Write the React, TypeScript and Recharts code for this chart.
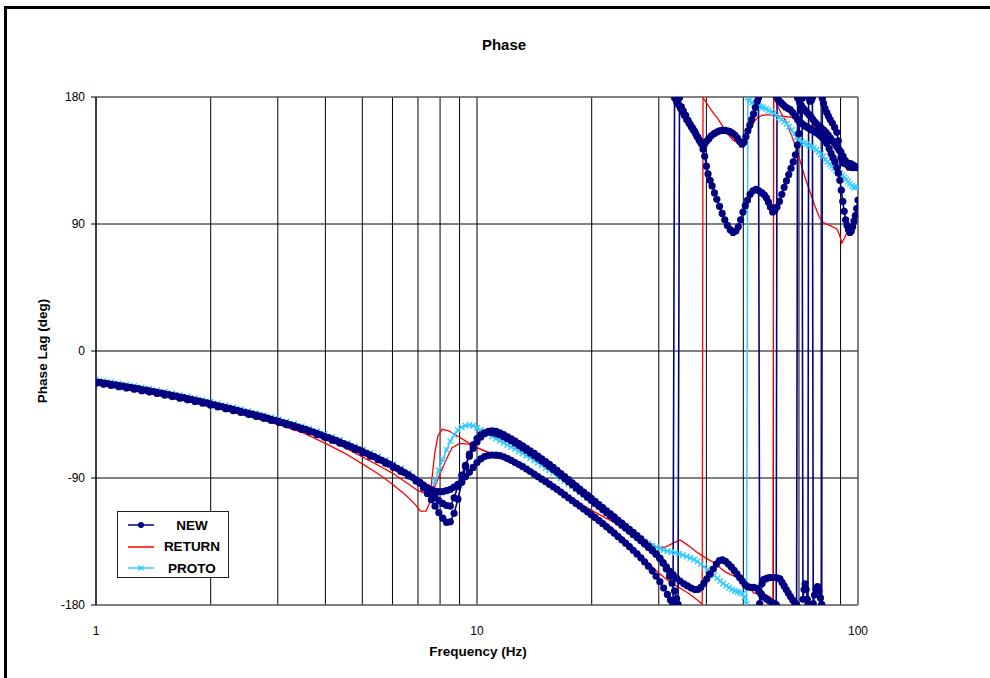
import React from 'react';
import { LineChart, Line, XAxis, YAxis, CartesianGrid, ReferenceLine } from 'recharts';

// Axis ticks: every grid frequency gets a vertical line, only decades get a label.
const gridFreqs = [1, 2, 3, 4, 5, 6, 7, 8, 9, 10, 20, 30, 40, 50, 60, 70, 80, 90, 100];
const decadeLabels = [1, 10, 100];
const phaseTicks = [-180, -90, 0, 90, 180];

// Shared sweep frequencies (Hz)
const lowFreqEven = [1.000, 1.047, 1.096, 1.148, 1.202, 1.259, 1.318, 1.380, 1.445, 1.514, 1.585, 1.660, 1.738, 1.820, 1.905, 1.995, 2.089, 2.188, 2.291, 2.399, 2.512, 2.630, 2.754, 2.884, 3.020, 3.162, 3.311, 3.467, 3.631, 3.802, 3.981, 4.169, 4.365, 4.571, 4.786, 5.012, 5.248, 5.495, 5.754, 6.026, 6.310, 6.607, 6.918];
const lowFreqOdd = [1.023, 1.072, 1.122, 1.175, 1.230, 1.288, 1.349, 1.413, 1.479, 1.549, 1.622, 1.698, 1.778, 1.862, 1.950, 2.042, 2.138, 2.239, 2.344, 2.455, 2.570, 2.692, 2.818, 2.951, 3.090, 3.236, 3.388, 3.548, 3.715, 3.890, 4.074, 4.266, 4.467, 4.677, 4.898, 5.129, 5.370, 5.623, 5.888, 6.166, 6.457, 6.761];
const midFreq = [7.08, 7.24, 7.41, 7.59, 7.76, 7.94, 8.13, 8.32, 8.51, 8.71, 8.91, 9.12, 9.33, 9.55, 9.77, 10.00, 10.23, 10.47, 10.72, 10.96, 11.22, 11.48, 11.75, 12.02, 12.30, 12.59, 12.88, 13.18, 13.49, 13.80, 14.13, 14.45, 14.79, 15.14, 15.49, 15.85, 16.22, 16.60, 16.98, 17.38, 17.78, 18.20, 18.62, 19.05, 19.50, 19.95, 20.42, 20.89, 21.38, 21.88, 22.39, 22.91, 23.44, 23.99, 24.55, 25.12, 25.70, 26.30, 26.92, 27.54, 28.18, 28.84, 29.51, 30.20];

// NEW, run A (phase lag, deg)
const newALow = [-22.0, -22.8, -23.6, -24.5, -25.4, -26.3, -27.3, -28.3, -29.3, -30.4, -31.5, -32.6, -33.8, -35.0, -36.2, -37.5, -38.8, -40.1, -41.4, -42.7, -44.1, -45.5, -46.9, -48.4, -49.9, -51.5, -53.1, -54.8, -56.5, -58.4, -60.4, -62.4, -64.5, -66.7, -69.0, -71.3, -73.7, -76.2, -78.8, -81.6, -84.6, -87.8, -91.3];
const newAMid = [-93.0, -95.0, -96.8, -98.2, -99.2, -99.7, -99.6, -99.0, -98.0, -96.5, -94.5, -92.0, -89.0, -86.0, -82.5, -79.0, -76.5, -74.8, -74.0, -73.7, -73.8, -74.2, -75.0, -76.2, -77.5, -79.0, -80.5, -82.0, -83.7, -85.4, -87.2, -89.0, -90.8, -92.6, -94.4, -96.2, -98.0, -100.0, -102.0, -104.0, -106.0, -108.0, -110.0, -112.0, -114.0, -116.0, -118.0, -120.2, -122.4, -124.6, -126.8, -129.0, -131.4, -133.8, -136.2, -138.6, -141.2, -143.8, -146.6, -149.5, -152.5, -155.8, -159.5, -163.5];
const newAHighFreq = [30.9, 31.6, 32.2, 32.7, 33.0, 33.4, 33.8, 34.2, 34.6, 35.0, 35.5, 36.0, 36.5, 37.0, 37.5, 38.0, 38.5, 39.0, 39.5, 40.0, 40.6, 41.2, 41.9, 42.6, 43.3, 44.0, 44.7, 45.4, 46.1, 46.8, 47.5, 48.2, 48.9, 49.6, 50.2, 50.8, 51.4, 52.0, 52.6, 53.2, 53.8, 54.4, 54.8, 55.2, 55.6, 56.0, 56.5, 57.2, 57.9, 58.6, 59.3, 60.0, 60.8, 61.6, 62.4, 63.2, 64.0, 64.8, 65.6, 66.5, 67.4, 68.3, 69.0, 69.4, 70.2, 71.0, 71.8, 72.6, 73.5, 74.4, 75.3, 76.2, 77.2, 78.2, 79.2, 80.2, 81.3, 82.4, 83.5, 84.6, 85.7, 86.8, 87.9, 89.0, 90.2, 91.4, 92.6, 93.8, 95.0, 96.3, 97.6, 98.9, 100];
const newAHigh = [-168, -172.5, -176.5, -179.5, 179.5, 177, 174.5, 172, 169.5, 167, 164, 161.5, 159, 156.5, 154, 151.5, 148.5, 146.5, 146.5, 148.5, 150.5, 152.5, 154, 155.2, 156, 156.3, 156.3, 156, 155.5, 154.5, 153, 151, 148.5, 146.5, 148, 152, 156, 160, 164, 168, 172.5, 177, 179.5, -179, -172, -165, -162, -161.5, -161, -160.5, -160.5, -160.5, -160.5, -161, -161.5, -164, -166.5, -169, -171.5, -174, -176.5, -178.5, -179.7, 179.5, 176.5, 174, 172, 170.5, 169, 167.5, 166, 164, 162, 160.5, 159, 158, 156.5, 155, 153, 151, 149, 147, 145, 143, 141, 138, 135, 132, 130.5, 130, 130, 130, 130];

// NEW, run B
const newBLow = [-22.3, -23.1, -24.0, -24.9, -25.8, -26.7, -27.7, -28.7, -29.8, -30.9, -32.0, -33.1, -34.3, -35.5, -36.8, -38.1, -39.4, -40.7, -42.0, -43.4, -44.8, -46.2, -47.6, -49.1, -50.7, -52.3, -53.9, -55.6, -57.4, -59.4, -61.4, -63.4, -65.6, -67.8, -70.1, -72.5, -74.9, -77.5, -80.2, -83.1, -86.2, -89.5];
const newBMid = [-93.5, -96.0, -98.5, -101.0, -103.5, -106.0, -108.0, -109.5, -110.0, -104.0, -96.0, -88.0, -81.0, -74.5, -69.0, -64.5, -61.0, -58.5, -57.0, -56.5, -57.0, -58.0, -59.3, -60.8, -62.3, -63.9, -65.6, -67.3, -69.0, -70.8, -72.6, -74.5, -76.4, -78.4, -80.4, -82.5, -84.6, -86.8, -89.0, -91.2, -93.4, -95.6, -97.8, -100.0, -102.2, -104.4, -106.6, -108.8, -111.0, -113.2, -115.4, -117.6, -119.8, -122.0, -124.2, -126.4, -128.6, -130.8, -133.2, -135.8, -138.4, -141.0, -143.8, -147.0];
const newBHighFreq = [30.8, 31.4, 32.0, 32.5, 33.0, 33.4, 33.7, 34.0, 34.4, 34.8, 35.3, 35.8, 36.3, 36.8, 37.3, 37.8, 38.3, 38.8, 39.2, 39.6, 40.0, 40.4, 40.9, 41.4, 42.0, 42.6, 43.3, 44.0, 44.7, 45.4, 46.2, 47.0, 47.8, 48.5, 49.2, 49.9, 50.6, 51.3, 52.1, 53.0, 54.0, 55.0, 56.0, 56.8, 57.5, 58.2, 58.9, 59.7, 60.5, 61.3, 62.2, 63.1, 64.0, 64.9, 65.8, 66.7, 67.6, 68.5, 69.3, 69.9, 70.4, 70.9, 71.3, 71.7, 72.2, 72.6, 73.1, 73.6, 73.9, 74.2, 74.8, 75.4, 75.9, 76.3, 76.9, 77.6, 78.3, 79.0, 79.7, 80.3, 80.6, 81.2, 81.9, 82.8, 83.6, 84.5, 85.6, 86.8, 88.0, 88.8, 89.4, 90.2, 91.0, 92.0, 93.2, 94.4, 95.6, 96.8, 98.0, 99.0, 100];
const newBHigh = [-150.5, -154.5, -159.5, -164.5, -170, -175.5, -179.5, 179.5, 173, 170, 167, 163.5, 160.5, 158, 155.5, 152, 149.5, 147, 143, 138, 131, 125.5, 121, 117, 112, 107.5, 102.5, 97.5, 93, 89, 86, 84, 85, 88, 93, 98.5, 103, 107, 111, 113.5, 114.5, 113.5, 112, 110.5, 108.5, 105.5, 102, 98.5, 99.5, 102, 106, 111, 116, 120.5, 125, 129.5, 134, 139, 146, 154, 162, 170.5, 179, -176, -169, -165, -169, -176, -179.5, 179.5, 177, 177.5, 179.5, -179, -173, -168.5, -167, -170, -175, -179.5, 179, 175.5, 172, 169, 166.5, 164, 161.5, 158.5, 155, 149, 142, 137, 133.5, 133, 133, 133, 132.8, 132, 131, 130.3, 130];

// NEW, run C
const newCLow = [-22.8, -23.6, -24.4, -25.3, -26.2, -27.1, -28.1, -29.1, -30.1, -31.2, -32.3, -33.4, -34.6, -35.8, -37.0, -38.3, -39.6, -40.9, -42.2, -43.5, -44.9, -46.3, -47.7, -49.2, -50.7, -52.3, -53.9, -55.6, -57.3, -59.2, -61.2, -63.2, -65.3, -67.5, -69.8, -72.1, -74.5, -77.0, -79.6, -82.4, -85.4, -88.6, -92.1];
const newCMid = [-93.5, -97.0, -101.0, -105.5, -110.0, -114.5, -118.5, -121.5, -121.0, -115.0, -105.0, -93.0, -82.0, -73.0, -66.5, -62.0, -59.5, -58.0, -57.5, -57.8, -58.5, -59.5, -60.8, -62.2, -63.7, -65.3, -67.0, -68.7, -70.4, -72.2, -74.0, -75.9, -77.8, -79.8, -81.8, -83.9, -86.0, -88.2, -90.4, -92.6, -94.8, -97.0, -99.2, -101.4, -103.6, -105.8, -108.0, -110.2, -112.4, -114.6, -116.8, -119.0, -121.2, -123.4, -125.6, -127.8, -130.0, -132.2, -134.5, -136.8, -139.2, -141.6, -144.0, -146.8];
const newCHighFreq = [30.8, 31.4, 32.0, 32.7, 33.4, 34.1, 34.9, 35.7, 36.5, 37.3, 38.0, 38.7, 39.4, 40.1, 40.9, 41.7, 42.5, 43.3, 44.1, 44.9, 45.7, 46.5, 47.3, 48.1, 48.9, 49.7, 50.5, 51.3, 52.2, 53.1, 54.0, 54.9, 55.8, 56.7, 57.6, 58.5, 59.4, 60.3, 61.0, 61.3, 62.0, 62.8, 63.6, 64.5, 65.4, 66.4, 67.4, 68.4, 69.4, 70.4, 71.4, 72.5, 73.6, 74.7, 75.8, 76.9, 78.0, 79.2, 80.4, 81.6, 82.8, 84.0, 85.0, 86.0, 87.0, 88.0, 88.8, 89.6, 90.4, 91.2, 92.0, 92.8, 93.6, 94.4, 95.2, 96.0, 96.8, 97.6, 98.4, 99.2, 100];
const newCHigh = [-150, -153, -156, -158.5, -161, -163, -165, -166.5, -168, -169, -169, -167.5, -164.5, -161.5, -158, -154.5, -151, -148.5, -148, -149, -151, -153, -155.5, -158, -160.5, -163, -165.5, -167, -167.5, -167.5, -168, -170, -172.5, -174.5, -176, -177, -178, -179, -179.8, 179.5, 177.5, 176, 174.5, 173, 172, 171, 169, 166.5, 164, 162, 161, 159.5, 158.5, 157.5, 156.5, 155.5, 154.5, 153, 151.5, 149.5, 147, 143.5, 140, 137, 134, 130, 126, 121, 114, 106, 99, 93, 89, 86, 84, 85, 88, 92, 96, 101, 107];

// PROTO
const protoLow = [-20.5, -21.3, -22.1, -23.0, -23.9, -24.8, -25.8, -26.8, -27.8, -28.9, -30.0, -31.1, -32.3, -33.5, -34.7, -36.0, -37.3, -38.6, -39.9, -41.2, -42.6, -44.0, -45.4, -46.9, -48.4, -50.0, -51.6, -53.3, -55.0, -56.9, -58.9, -60.9, -63.0, -65.2, -67.5, -69.8, -72.2, -74.7, -77.3, -80.1, -83.1, -86.3, -89.8];
const protoMid = [-93.5, -97.0, -100.0, -99.5, -92.0, -84.5, -77.0, -70.0, -64.0, -59.5, -56.0, -54.0, -53.0, -52.5, -53.0, -54.5, -56.0, -57.5, -59.0, -60.5, -62.0, -63.5, -65.0, -66.5, -68.0, -69.5, -71.0, -72.6, -74.2, -75.8, -77.5, -79.2, -81.0, -82.8, -84.6, -86.4, -88.3, -90.2, -92.1, -94.0, -96.0, -98.0, -100.0, -102.0, -104.0, -106.0, -108.1, -110.2, -112.3, -114.4, -116.5, -118.6, -120.7, -122.8, -124.9, -127.0, -129.0, -131.0, -133.0, -134.8, -136.4, -137.8, -139.0, -140.0];
const protoHighFreq = [30.9, 31.6, 32.4, 33.1, 33.9, 34.7, 35.5, 36.3, 37.1, 37.9, 38.7, 39.5, 40.3, 41.1, 41.9, 42.7, 43.5, 44.3, 45.1, 45.9, 46.7, 47.5, 48.3, 49.1, 49.8, 50.4, 51.0, 51.4, 52.0, 52.7, 53.4, 54.1, 54.9, 55.7, 56.5, 57.4, 58.3, 59.2, 60.1, 61.0, 62.0, 63.0, 64.0, 65.0, 66.0, 67.0, 68.0, 69.0, 70.0, 71.1, 72.2, 73.3, 74.4, 75.5, 76.6, 77.7, 78.8, 79.9, 81.0, 82.1, 83.2, 84.3, 85.4, 86.5, 87.6, 88.7, 89.8, 90.9, 92.0, 93.1, 94.2, 95.3, 96.4, 97.5, 98.6, 100];
const protoHigh = [-141, -141.8, -142.5, -143, -143.8, -144.6, -145.6, -146.6, -147.8, -149.2, -151, -153, -155, -157, -159, -161, -163, -164.8, -166.4, -167.8, -169, -170, -170.6, -171.2, -172, -174.5, -179.5, 179.5, 177.5, 176, 175, 174, 173.5, 173, 172.5, 171.5, 170.5, 169.5, 168.5, 167, 165.5, 164, 162.5, 161, 159, 156.5, 154, 151.5, 149.5, 148.5, 147.5, 146.5, 145.5, 145, 144, 142.5, 141, 139.5, 138, 135.5, 134, 132.5, 131, 129.5, 128, 127, 126, 124.5, 123, 121.5, 120, 118.5, 117, 116, 116, 116];

// RETURN, run A
const returnAFreq = [1.0, 1.26, 1.58, 2.0, 2.5, 3.0, 3.5, 4.0, 4.5, 5.0, 5.5, 6.0, 6.5, 6.9, 7.1, 7.35, 7.5, 7.62, 7.75, 7.9, 8.1, 8.4, 8.8, 9.3, 9.8, 10.5, 11.2, 12.0, 13.0, 14.4, 16.0, 17.6, 19.5, 21.5, 23.3, 25.1, 26.5, 28.0, 29.5, 31.0, 32.5, 34.1, 35.8, 37.3, 38.5, 39.0, 39.2, 40.0, 41.0, 42.0, 42.8, 43.6, 44.3, 45.2, 46.1, 47.0, 48.3, 49.6, 50.5, 51.5, 52.5, 53.5, 54.5, 56.0, 58.0, 60.0, 62.5, 65.0, 67.5, 70.0, 73.0, 76.0, 78.5, 80.5, 83.0, 85.5, 88.0, 90.5, 92.5, 93.8, 95.5, 97.5, 100];
const returnAPhase = [-24, -27.5, -32.5, -39.5, -46, -52, -58, -65.5, -72.5, -80, -87, -94.5, -102, -109, -113.5, -113.5, -108, -90, -72, -60, -55.5, -56.5, -59.5, -63.5, -67.5, -71, -74, -77.5, -82, -88, -95.5, -103.5, -112, -120.5, -128.5, -136.5, -142.5, -149.5, -155.5, -160.5, -164.5, -168, -171.5, -175, -178, -179.5, 179.5, 176, 171.5, 167.5, 165, 161.5, 158.5, 155, 152, 149.5, 147.5, 147, 149, 153.5, 158.5, 163, 165.5, 167, 167.5, 167, 166.5, 166, 165.5, 164, 161.5, 159, 157, 156, 152, 147.5, 142, 135.5, 130.5, 128, 128.5, 129.5, 131];

// RETURN, run B
const returnBFreq = [1.0, 1.26, 1.58, 2.0, 2.5, 3.0, 3.5, 4.0, 4.5, 5.0, 5.5, 6.0, 6.5, 7.0, 7.25, 7.5, 7.75, 8.0, 8.3, 8.6, 9.0, 9.5, 10.0, 10.6, 11.3, 12.0, 13.0, 14.4, 16.0, 17.6, 19.0, 20.5, 22.0, 23.3, 24.8, 26.3, 28.0, 29.5, 30.5, 31.5, 32.8, 34.1, 35.3, 36.5, 37.7, 39.0, 40.3, 41.6, 43.2, 44.8, 46.8, 49.0, 51.0, 53.2, 55.3, 57.5, 58.9, 59.5, 59.8, 60.1, 61.5, 63.0, 65.0, 67.5, 70.0, 72.5, 75.0, 77.0, 79.0, 80.6, 82.5, 85.0, 88.0, 89.5, 90.7, 92.5, 94.5, 96.5, 98.5, 100];
const returnBPhase = [-23.5, -27, -32, -39, -45.5, -51.5, -57, -62.5, -68.5, -75, -81, -86.5, -93, -99, -100.5, -100.5, -96, -87, -77, -68.5, -65.5, -66, -68.5, -71.5, -74.5, -78, -82.5, -88.5, -96, -104, -109.5, -114.5, -119, -122.5, -126.5, -130.5, -135, -138.5, -139.5, -138.5, -136, -134, -136.5, -139.5, -142.5, -145, -147.5, -149.5, -153, -156.5, -159, -161, -165, -171.5, -172.5, -173, -174.5, -178, -179.5, 179.5, 174, 168, 161.5, 150, 137.5, 123.5, 112, 103, 95.5, 91.5, 90, 88.5, 86.5, 82, 76.5, 81, 86.5, 90, 93, 95];

type Pt = { f: number; p: number };
const toPoints = (freqs: number[], phases: number[]): Pt[] =>
  freqs.map((f, i) => ({ f, p: phases[i] }));

const NAVY = '#000080';
const RED = '#FF0000';
const SKY = '#33CCFF';
const FONT = "'Liberation Sans', Arial, Helvetica, sans-serif";

const newA = toPoints([...lowFreqEven, ...midFreq, ...newAHighFreq], [...newALow, ...newAMid, ...newAHigh]);
const newB = toPoints([...lowFreqOdd, ...midFreq, ...newBHighFreq], [...newBLow, ...newBMid, ...newBHigh]);
const newC = toPoints([...lowFreqEven, ...midFreq, ...newCHighFreq], [...newCLow, ...newCMid, ...newCHigh]);
const proto = toPoints([...lowFreqEven, ...midFreq, ...protoHighFreq], [...protoLow, ...protoMid, ...protoHigh]);
const returnA = toPoints(returnAFreq, returnAPhase);
const returnB = toPoints(returnBFreq, returnBPhase);

const legendItems = [
  { name: 'NEW', color: NAVY, marker: 'dot' },
  { name: 'RETURN', color: RED, marker: 'none' },
  { name: 'PROTO', color: SKY, marker: 'cross' },
];

function CrossDot(props: any) {
  const { cx, cy, index } = props;
  if (cx == null || cy == null) return <g key={`pc-${index}`} />;
  const s = 2.8;
  return (
    <path
      key={`pc-${index}`}
      d={`M${cx - s},${cy - s}L${cx + s},${cy + s}M${cx - s},${cy + s}L${cx + s},${cy - s}`}
      stroke={SKY}
      strokeWidth={1.4}
      fill="none"
    />
  );
}

const navyDot = { r: 3.6, fill: NAVY, stroke: NAVY, strokeWidth: 0 };

function LegendBox() {
  return (
    <div
      style={{
        position: 'absolute',
        left: 117,
        top: 511,
        width: 112,
        height: 67,
        border: '1px solid #222',
        background: '#fff',
        boxSizing: 'border-box',
        fontFamily: FONT,
        fontWeight: 'bold',
        fontSize: 13.5,
      }}
    >
      {legendItems.map((it, i) => (
        <div
          key={it.name}
          style={{ position: 'absolute', left: 0, top: 3 + i * 21.5, width: 112, height: 20, display: 'flex', alignItems: 'center' }}
        >
          <svg width={36} height={12} style={{ marginLeft: 8 }}>
            <line x1={2} y1={6} x2={28} y2={6} stroke={it.color} strokeWidth={1.5} />
            {it.marker === 'dot' && <circle cx={15} cy={6} r={3} fill={it.color} />}
            {it.marker === 'cross' && (
              <path d="M12.5,3.5L17.5,8.5M12.5,8.5L17.5,3.5" stroke={it.color} strokeWidth={1.4} />
            )}
          </svg>
          <div style={{ position: 'absolute', left: 44, width: 60, textAlign: 'center' }}>{it.name}</div>
        </div>
      ))}
    </div>
  );
}

export default function App() {
  return (
    <div style={{ position: 'absolute', left: 0, top: 0, width: 990, height: 678, overflow: 'hidden', background: '#fff' }}>
      {/* outer chart frame: only its left and top edges fall inside the page */}
      <svg width={990} height={678} style={{ position: 'absolute', left: 0, top: 0 }}>
        <path d="M5.5,678 V7.5 H990" stroke="#000" strokeWidth={3} fill="none" />
      </svg>
      <LineChart
        width={990}
        height={678}
        margin={{ top: 97, right: 132, bottom: 43, left: 0 }}
        style={{ position: 'absolute', left: 0, top: 0 }}
      >
        <CartesianGrid stroke="#000" strokeWidth={1} />
        <XAxis
          dataKey="f"
          type="number"
          scale="log"
          domain={[1, 100]}
          allowDataOverflow
          ticks={gridFreqs}
          interval={0}
          tickFormatter={(v: number) => (decadeLabels.includes(v) ? String(v) : '')}
          tickLine={false}
          tickSize={6}
          tickMargin={15}
          axisLine={{ stroke: '#808080' }}
          tick={{ fontSize: 12, fill: '#000', fontFamily: FONT }}
          height={30}
        />
        <YAxis
          type="number"
          domain={[-180, 180]}
          allowDataOverflow
          ticks={phaseTicks}
          interval={0}
          width={96}
          tickSize={5}
          tickMargin={6}
          axisLine={{ stroke: '#000' }}
          tickLine={{ stroke: '#000' }}
          tick={{ fontSize: 12, fill: '#000', fontFamily: FONT }}
        />
        <ReferenceLine y={180} stroke="#808080" />
        <ReferenceLine x={100} stroke="#808080" />
        <Line data={proto} dataKey="p" name="PROTO" type="linear" stroke={SKY} strokeWidth={1.5} dot={CrossDot} activeDot={false} isAnimationActive={false} />
        <Line data={returnA} dataKey="p" name="RETURN" type="linear" stroke={RED} strokeWidth={1.3} dot={false} activeDot={false} isAnimationActive={false} />
        <Line data={returnB} dataKey="p" name="RETURN" type="linear" stroke={RED} strokeWidth={1.3} dot={false} activeDot={false} isAnimationActive={false} />
        <Line data={newC} dataKey="p" name="NEW" type="linear" stroke={NAVY} strokeWidth={1.6} dot={navyDot} activeDot={false} isAnimationActive={false} />
        <Line data={newB} dataKey="p" name="NEW" type="linear" stroke={NAVY} strokeWidth={1.6} dot={navyDot} activeDot={false} isAnimationActive={false} />
        <Line data={newA} dataKey="p" name="NEW" type="linear" stroke={NAVY} strokeWidth={1.6} dot={navyDot} activeDot={false} isAnimationActive={false} />
      </LineChart>

      <div style={{ position: 'absolute', left: 504, top: 44, transform: 'translate(-50%, -50%)', fontFamily: FONT, fontWeight: 'bold', fontSize: 15, whiteSpace: 'nowrap' }}>
        Phase
      </div>
      <div style={{ position: 'absolute', left: 478, top: 651, transform: 'translate(-50%, -50%)', fontFamily: FONT, fontWeight: 'bold', fontSize: 13.5, whiteSpace: 'nowrap' }}>
        Frequency (Hz)
      </div>
      <div style={{ position: 'absolute', left: 42, top: 351, transform: 'translate(-50%, -50%) rotate(-90deg)', fontFamily: FONT, fontWeight: 'bold', fontSize: 13.5, whiteSpace: 'nowrap' }}>
        Phase Lag (deg)
      </div>
      <LegendBox />
    </div>
  );
}
